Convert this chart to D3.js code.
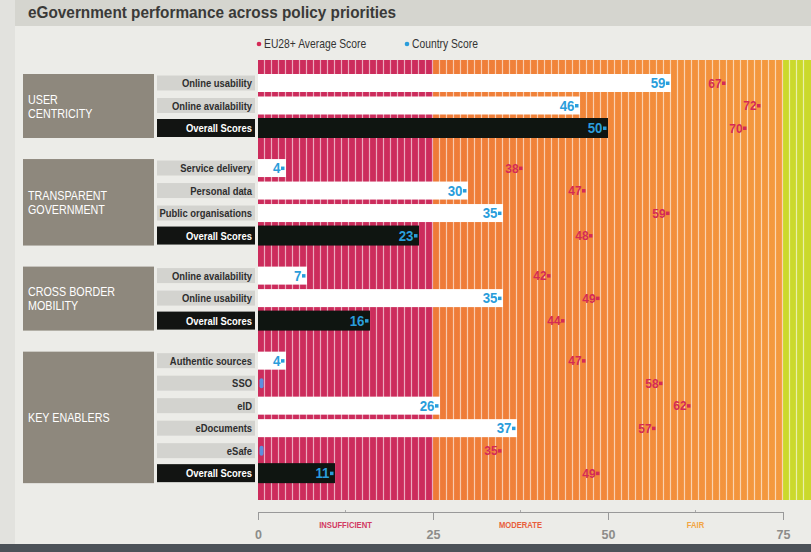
<!DOCTYPE html>
<html><head><meta charset="utf-8">
<script src="https://cdn.jsdelivr.net/npm/d3@7/dist/d3.min.js"></script>
<style>
html,body{margin:0;padding:0;background:#ecece8;}
svg{display:block;}
</style></head>
<body>
<svg id="chart" width="811" height="552"></svg>
<script>
// ---- data ----
const title = "eGovernment performance across policy priorities";
const groupTitles = [["USER", "CENTRICITY"], ["TRANSPARENT", "GOVERNMENT"], ["CROSS BORDER", "MOBILITY"], ["KEY ENABLERS"]];
const rowLabels = ["Online usability", "Online availability", "Overall Scores",
  "Service delivery", "Personal data", "Public organisations", "Overall Scores",
  "Online availability", "Online usability", "Overall Scores",
  "Authentic sources", "SSO", "eID", "eDocuments", "eSafe", "Overall Scores"];
const rowGroup = [0,0,0, 1,1,1,1, 2,2,2, 3,3,3,3,3,3];
const countryScore = [59,46,50, 4,30,35,23, 7,35,16, 4,0,26,37,0,11];
const euAverage   = [67,72,70, 38,47,59,48, 42,49,44, 47,58,62,57,35,49];
const legendLabels = ["EU28+ Average Score", "Country Score"];
const tickValues = [0,25,50,75];
const bandLabels = ["INSUFFICIENT", "MODERATE", "FAIR"];
const bandMids = [12.5, 37.5, 62.5];

// ---- setup ----
const svg = d3.select("#chart");
const W = 811, H = 552;
const x = d3.scaleLinear().domain([0,75]).range([258,783]);
const groupGap = 0.78;
const slot = i => i + rowGroup[i]*groupGap;
const y = d3.scaleLinear().domain([0,1]).range([83,105.5]);
const sans = "'Liberation Sans',Arial,sans-serif";
const red = "#d42a56", blue = "#2a9ddb";

// condensed text helper
function ctext(parent, tx, ty, s, str) {
  return parent.append("g").attr("transform",`translate(${tx},${ty}) scale(${s},1)`)
    .append("text").attr("x",0).attr("y",0).text(str).attr("font-family",sans);
}

// background
svg.append("rect").attr("width",W).attr("height",H).attr("fill","#ecece8");
svg.append("rect").attr("width",W).attr("height",26).attr("fill","#d5d5cf");
svg.append("rect").attr("x",0).attr("y",0).attr("width",15).attr("height",H).attr("fill","#e2e2de");
svg.append("rect").attr("x",0).attr("y",544).attr("width",W).attr("height",8).attr("fill","#4c5258");

// title
ctext(svg, 28, 18, 0.93, title)
  .attr("font-weight","bold").attr("font-size",16.5).attr("fill","#3a3a38");

// legend
const legColors = [red, blue];
const legX = [259, 407];
legendLabels.forEach((t,i)=>{
  svg.append("circle").attr("cx",legX[i]).attr("cy",44).attr("r",2.3).attr("fill",legColors[i]);
  ctext(svg, legX[i]+5, 48, 0.86, t).attr("font-size",12).attr("fill","#333");
});

// plot background bands
const defs = svg.append("defs");
const grad = defs.append("linearGradient").attr("id","og").attr("x1","0").attr("x2","1");
grad.append("stop").attr("offset","0").attr("stop-color","#ee7a38");
grad.append("stop").attr("offset","0.5").attr("stop-color","#f2883a");
grad.append("stop").attr("offset","1").attr("stop-color","#f49a3e");
const plotTop = 60, plotBot = 500;
const xEnd = x.invert(W);
svg.append("rect").attr("x",x(0)).attr("y",plotTop).attr("width",x(25)-x(0)).attr("height",plotBot-plotTop).attr("fill","#cc2c5c");
svg.append("rect").attr("x",x(25)).attr("y",plotTop).attr("width",x(75)-x(25)).attr("height",plotBot-plotTop).attr("fill","url(#og)");
svg.append("rect").attr("x",x(75)).attr("y",plotTop).attr("width",W-x(75)).attr("height",plotBot-plotTop).attr("fill","#cbd92c");
const stripes = d3.range(1, Math.ceil(xEnd));
svg.append("g").selectAll("line").data(stripes).join("line")
  .attr("x1",d=>x(d)-0.5).attr("x2",d=>x(d)-0.5).attr("y1",plotTop).attr("y2",plotBot)
  .attr("stroke","#fff").attr("stroke-opacity",0.6).attr("stroke-width",1.2);

// group boxes
const groups = d3.groups(d3.range(rowLabels.length), i=>rowGroup[i]);
groups.forEach(([g, idx])=>{
  const y0 = y(slot(idx[0])) - 9, y1 = y(slot(idx[idx.length-1])) + 10;
  svg.append("rect").attr("x",23).attr("y",y0).attr("width",131).attr("height",y1-y0).attr("fill","#8e887d");
  const lines = groupTitles[g];
  const cy = (y0+y1)/2;
  lines.forEach((t,k)=>{
    ctext(svg, 28, cy + (k-(lines.length-1)/2)*14 + 4.5, 0.86, t)
      .attr("font-size",12.5).attr("fill","#fff");
  });
});

// rows
const rows = rowLabels.map((l,i)=>({label:l, i, overall:l==="Overall Scores", c:countryScore[i], e:euAverage[i]}));
rows.forEach(r=>{
  const cy = y(slot(r.i));
  const lh = r.overall ? 18 : 15;
  svg.append("rect").attr("x",157).attr("y",cy-lh/2).attr("width",98).attr("height",lh)
    .attr("fill", r.overall ? "#121412" : "#d3d3cf");
  ctext(svg, 252, cy+4, 0.82, r.label).attr("text-anchor","end")
    .attr("font-weight","bold").attr("font-size",11.5)
    .attr("fill", r.overall ? "#fff" : "#2e2e2e");
  // country bar
  if (r.c > 0) {
    const bh = r.overall ? 20 : 18;
    svg.append("rect").attr("x",x(0)).attr("y",cy-bh/2).attr("width",x(r.c)-x(0)).attr("height",bh)
      .attr("fill", r.overall ? "#0f1511" : "#ffffff");
    svg.append("rect").attr("x",x(r.c)-5).attr("y",cy-1.5).attr("width",3.5).attr("height",3.5).attr("fill",blue);
    ctext(svg, x(r.c)-5.5, cy+5, 0.95, r.c).attr("text-anchor","end")
      .attr("font-weight","bold").attr("font-size",14).attr("fill",blue);
  } else {
    svg.append("rect").attr("x",x(0)+1.5).attr("y",cy-5).attr("width",4).attr("height",10).attr("rx",2)
      .attr("fill","#5d8fe0");
  }
  // EU average
  svg.append("rect").attr("x",x(r.e)-5).attr("y",cy-1.5).attr("width",3.5).attr("height",3.5).attr("fill",red);
  ctext(svg, x(r.e)-5.5, cy+4.5, 0.95, r.e).attr("text-anchor","end")
    .attr("font-weight","bold").attr("font-size",12.5).attr("fill",red);
});

// axis
const axisG = svg.append("g").attr("transform","translate(0,512)");
axisG.call(d3.axisBottom(x).tickValues(tickValues).tickSize(8).tickPadding(10).tickFormat(d3.format("d")));
axisG.select(".domain").attr("stroke","#999").attr("stroke-width",1);
axisG.selectAll(".tick line").attr("stroke","#999");
axisG.selectAll(".tick text").attr("font-family",sans).attr("font-weight","bold").attr("font-size",12.5).attr("fill","#8c8c8a");
axisG.selectAll(".minor").data(bandMids).join("line").attr("class","minor")
  .attr("x1",d=>x(d)).attr("x2",d=>x(d)).attr("y1",-2).attr("y2",0).attr("stroke","#aaa");
const bandColors = ["#d23a62", "#e85e3c", "#f2a542"];
bandLabels.forEach((t,i)=>{
  ctext(svg, x(bandMids[i]), 528, 0.85, t).attr("text-anchor","middle")
    .attr("font-weight","bold").attr("font-size",9).attr("fill",bandColors[i]);
});
</script>
</body></html>
